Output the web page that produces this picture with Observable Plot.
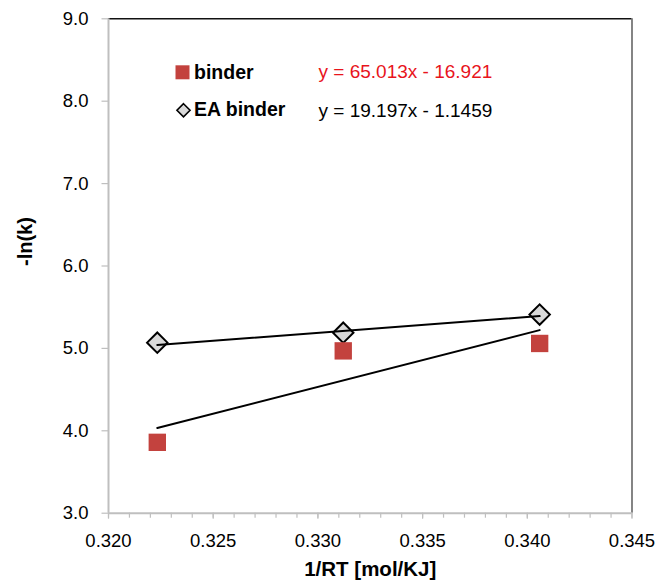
<!DOCTYPE html>
<html>
<head>
<meta charset="utf-8">
<script src="https://cdn.jsdelivr.net/npm/d3@7"></script>
<script src="https://cdn.jsdelivr.net/npm/@observablehq/plot@0.6"></script>
<style>
  html, body { margin: 0; padding: 0; background: #fff; }
  #chart svg { display: block; }
</style>
</head>
<body>
<div id="chart"></div>
<script>
// Arrhenius-type plot: -ln(k) against 1/RT for two binders
const invRT = [0.32233, 0.33121, 0.34059];           // 1/RT [mol/kJ]
const binderLnK = [3.86, 4.97, 5.06];                // -ln(k), binder
const eaBinderLnK = [5.07, 5.19, 5.41];              // -ln(k), EA binder
const seriesNames = ["binder", "EA binder"];
const fitSlope = [65.013, 19.197];                   // linear trendline slopes
const fitIntercept = [-16.921, -1.1459];             // linear trendline intercepts
const xTicks = [0.320, 0.325, 0.330, 0.335, 0.340, 0.345];
const yTicks = [3, 4, 5, 6, 7, 8, 9];
const xDomain = [0.320, 0.345];
const yDomain = [3, 9];

// minor ticks every 0.001 along the x axis
const xMinor = d3.range(0, 26).map(i => +(xDomain[0] + i * 0.001).toFixed(3));

const seriesValues = [binderLnK, eaBinderLnK];
const points = seriesNames.map((name, s) =>
  invRT.map((x, i) => ({series: name, x, y: seriesValues[s][i]}))
);

// Trendline endpoints span the measured 1/RT range
const xLo = d3.min(invRT), xHi = d3.max(invRT);
const trend = seriesNames.map((name, s) =>
  [xLo, xHi].map(x => ({series: name, x, y: fitSlope[s] * x + fitIntercept[s]}))
);
const equations = seriesNames.map((name, s) =>
  `y = ${fitSlope[s]}x ${fitIntercept[s] < 0 ? "-" : "+"} ${Math.abs(fitIntercept[s])}`
);

const red = "#c3423e";
const grey = "#bfbfbf";
const font = "'Liberation Sans', Arial, sans-serif";

const legendRowY = [53.5, 91];
const equationRowY = [53, 92.5];

const chart = Plot.plot({
  width: 669,
  height: 587,
  marginLeft: 108,
  marginRight: 37.5,
  marginTop: 18.3,
  marginBottom: 74.3,
  style: {fontFamily: font, color: "#000", background: "#fff"},
  x: {domain: xDomain},
  y: {domain: yDomain},
  marks: [
    // frame
    Plot.ruleY([yDomain[1]], {stroke: "#111", strokeWidth: 1.6}),
    Plot.ruleX([xDomain[1]], {stroke: "#666", strokeWidth: 1.6}),
    // axes
    Plot.axisX(xMinor, {tickSize: 5, stroke: grey, strokeWidth: 1.2, fill: "none", label: null}),
    Plot.axisX(xTicks, {tickSize: 6, tickPadding: 15, stroke: grey, strokeWidth: 1.2,
      tickFormat: d => d.toFixed(3), fontSize: 18.5, fill: "#000", label: null}),
    Plot.axisY(yTicks, {tickSize: 6.5, tickPadding: 13.5, stroke: grey, strokeWidth: 1.2,
      tickFormat: d => d.toFixed(1), fontSize: 18.5, fill: "#000", label: null}),
    Plot.ruleX([xDomain[0]], {stroke: grey, strokeWidth: 2}),
    Plot.ruleY([yDomain[0]], {stroke: grey, strokeWidth: 2}),
    // data points
    Plot.dot(points[1], {x: "x", y: "y", symbol: "diamond2", r: 9.2,
      fill: "#d9d9d9", stroke: "#000", strokeWidth: 2}),
    Plot.dot(points[0], {x: "x", y: "y", symbol: "square", r: 9.8, fill: red}),
    // linear trendlines
    ...trend.map(t => Plot.line(t, {x: "x", y: "y", stroke: "#000", strokeWidth: 2})),
    // legend
    Plot.dot([seriesNames[0]], {frameAnchor: "top-left", dx: 74, dy: legendRowY[0],
      symbol: "square", r: 7.9, fill: red}),
    Plot.dot([seriesNames[1]], {frameAnchor: "top-left", dx: 75, dy: legendRowY[1] + 0.5,
      symbol: "diamond2", r: 5.9, fill: "#d9d9d9", stroke: "#000", strokeWidth: 1.6}),
    ...seriesNames.map((name, s) => Plot.text([name], {frameAnchor: "top-left", text: d => d,
      dx: 85.5, dy: legendRowY[s], textAnchor: "start", lineAnchor: "middle",
      fontSize: 19.5, fontWeight: "bold", fill: "#000"})),
    // trendline equations
    ...equations.map((eq, s) => Plot.text([eq], {frameAnchor: "top-left", text: d => d,
      dx: 210, dy: equationRowY[s], textAnchor: "start", lineAnchor: "middle",
      fontSize: 19, fill: s === 0 ? "#e8141c" : "#000"})),
    // axis titles
    Plot.text(["1/RT [mol/KJ]"], {frameAnchor: "bottom", text: d => d, dy: 56,
      lineAnchor: "middle", fontSize: 20.5, fontWeight: "bold", fill: "#000"}),
    Plot.text(["-ln(k)"], {frameAnchor: "left", text: d => d, dx: -82.5, rotate: -90,
      lineAnchor: "middle", fontSize: 20, fontWeight: "bold", fill: "#000"})
  ]
});

document.getElementById("chart").append(chart);
</script>
</body>
</html>
